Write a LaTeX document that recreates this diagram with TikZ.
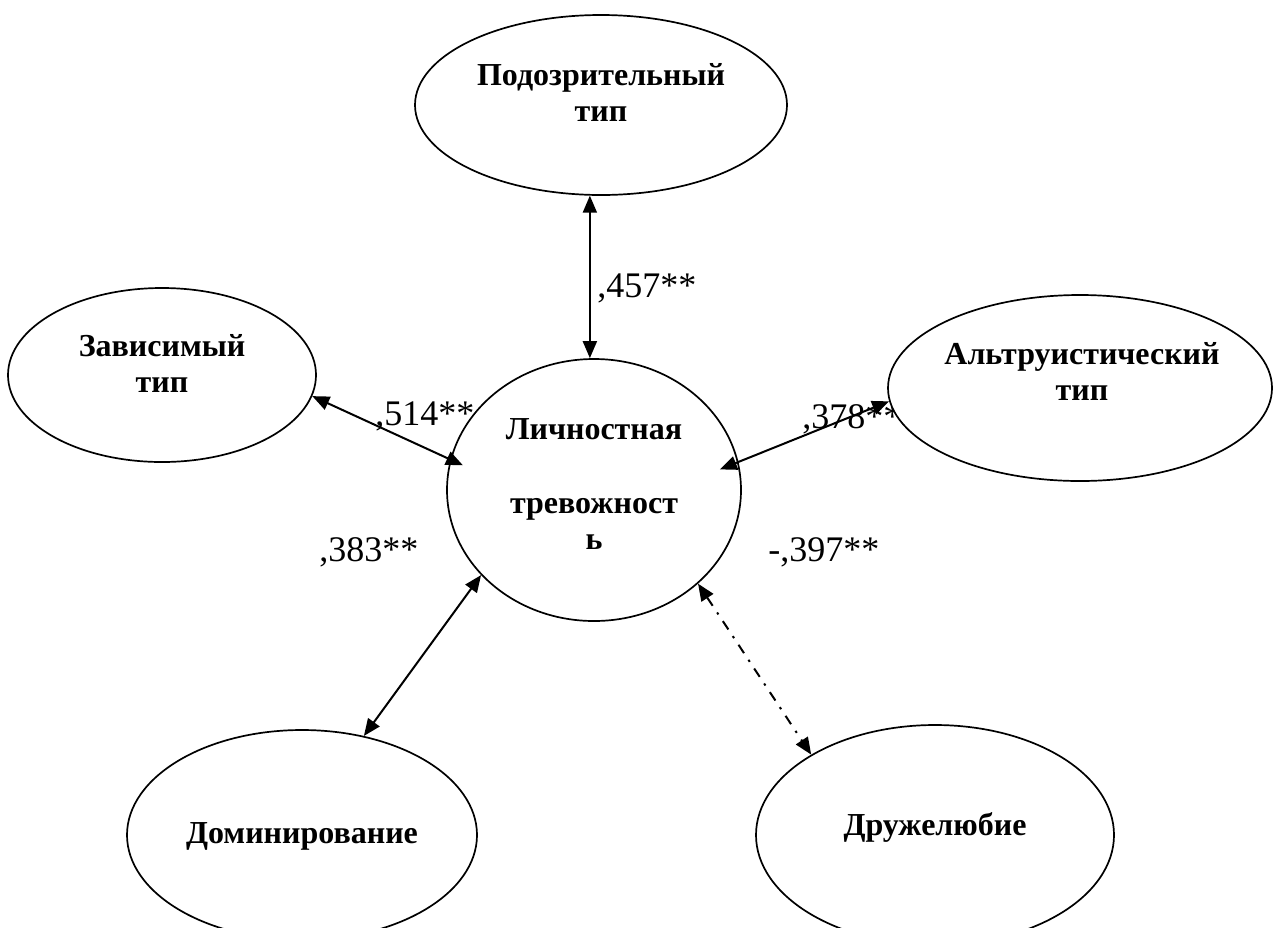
\documentclass[tikz,border=0pt]{standalone}
\usepackage{fontspec}
\setmainfont{Liberation Serif}
\usepackage{tikz}
\usetikzlibrary{arrows.meta, shapes.geometric}

\tikzset{
  oval/.style={draw=black, ellipse, line width=0.85pt, inner sep=0pt, fill=white},
  ovaltext/.style={font=\fontsize{16}{18}\selectfont\bfseries, align=center, inner sep=0pt},
  corr/.style={font=\fontsize{18}{20}\selectfont, inner sep=0pt, anchor=base west},
  link/.style={{Triangle[length=8.5pt,width=7pt]}-{Triangle[length=8.5pt,width=7pt]}, line width=1pt},
}

\begin{document}
\begin{tikzpicture}[x=0.5pt, y=-0.5pt]
  \useasboundingbox (0,0) rectangle (1273,927);
  \clip (0,0) rectangle (1273,927);

  % correlation values
  \node[corr] (r457) at (597,297) {,457**};
  \node[corr] (r378) at (802,428) {,378**};
  \node[corr] (r383) at (319,561) {,383**};
  \node[corr] (r397) at (768,561) {-,397**};

  % ovals
  \node[oval, minimum width=186pt, minimum height=90pt] (podoz) at (601,105) {};
  \node[oval, minimum width=154pt, minimum height=87pt] (zav) at (162,375) {};
  \node[oval, fill=none, minimum width=147pt, minimum height=131pt] (lich) at (594,490) {};
  \node[oval, minimum width=192pt, minimum height=93pt] (altr) at (1080,388) {};
  \node[oval, minimum width=175pt, minimum height=105pt] (domin) at (302,835) {};
  \node[oval, minimum width=179pt, minimum height=110pt] (druzh) at (935,835) {};

  \node[corr] (r514) at (375,425) {,514**};

  % texts
  \node[ovaltext] (podozT) at (601,92) {Подозрительный\\тип};
  \node[ovaltext] (zavT) at (162,363) {Зависимый\\тип};
  \node[ovaltext] (lichT) at (594,484) {Личностная\\[19pt]тревожност\\ь};
  \node[ovaltext] (altrT) at (1082,371) {Альтруистический\\тип};
  \node[ovaltext] (dominT) at (302,836) {Доминирование};
  \node[ovaltext] (druzhT) at (935,827) {Дружелюбие};

  % links
  \draw[link] (podoz.-97) -- (podoz.-97 |- lich.north);
  \draw[link, shorten >=-7pt] (zav.-8) -- (lich.168);
  \draw[link, shorten <=-10pt] (lich.11) -- (altr.184);
  \draw[link] (lich.217) -- (domin.58);
  \draw[link, dash pattern=on 5pt off 4pt on 1.2pt off 4pt] (lich.-42) -- (druzh.147);
\end{tikzpicture}
\end{document}
